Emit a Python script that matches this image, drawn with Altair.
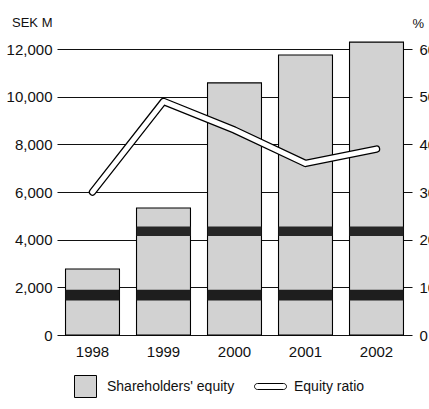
import altair as alt
import pandas as pd

# Shareholders' equity (SEK M) and equity ratio (%) by year
years = ["1998", "1999", "2000", "2001", "2002"]
equity = [2770, 5330, 10580, 11750, 12290]
equity_ratio = [30, 49, 43, 36, 39]

df = pd.DataFrame({
    "year": years,
    "equity": equity,
    "ratio": equity_ratio,
    "s_bar": "Shareholders' equity",
    "s_line": "Equity ratio",
})

FONT = "Liberation Sans"
INK = "#111111"

x_enc = alt.X(
    "year:O",
    sort=years,
    scale=alt.Scale(paddingInner=0.24, paddingOuter=0.12),
    axis=alt.Axis(title=None, labelAngle=0, domain=False, ticks=False,
                  labelPadding=9, labelFontSize=15, labelColor=INK),
)

eq_scale = alt.Scale(domain=[0, 12000], nice=False)
ratio_scale = alt.Scale(domain=[0, 60], nice=False)

left_axis = alt.Axis(
    values=list(range(0, 12001, 2000)),
    labelExpr="format(datum.value, ',.0f')",
    grid=True, gridColor=INK, gridWidth=1.1,
    domain=False, ticks=False, labelPadding=5,
    labelFontSize=15, labelColor=INK,
    title="SEK M", titleAngle=0, titleX=-5, titleY=-33,
    titleAlign="right", titleBaseline="top",
    titleFontSize=13, titleFontWeight="normal", titleColor=INK,
)
right_axis = alt.Axis(
    orient="right", values=list(range(0, 61, 10)), grid=False,
    domain=False, ticks=False, labelPadding=7,
    labelFontSize=15, labelColor=INK,
    title="%", titleAngle=0, titleX=0, titleY=-32,
    titleAlign="left", titleBaseline="top",
    titleFontSize=13, titleFontWeight="normal", titleColor=INK,
)

base = alt.Chart(df)

bars = base.mark_bar(stroke="black", strokeWidth=1.1).encode(
    x=x_enc,
    y=alt.Y("equity:Q", scale=eq_scale, axis=left_axis),
    fill=alt.Fill(
        "s_bar:N",
        scale=alt.Scale(range=["#d2d2d2"]),
        legend=alt.Legend(
            title=None, orient="none", legendX=17, legendY=326, padding=0,
            symbolType="square", symbolSize=484, symbolStrokeColor="black",
            symbolStrokeWidth=1, labelFontSize=14, labelColor=INK,
            labelOffset=10,
        ),
    ),
)

# darker print bands across the bars
band_low = base.transform_filter("datum.equity > 1450").transform_calculate(
    lo="1450", hi="min(datum.equity, 1900)"
).mark_bar(color="#1e1e1e").encode(
    x=alt.X("year:O", sort=years),
    y=alt.Y("lo:Q", scale=eq_scale, axis=left_axis),
    y2="hi:Q",
)
band_mid = base.transform_filter("datum.equity > 4150").transform_calculate(
    lo="4150", hi="min(datum.equity, 4550)"
).mark_bar(color="#262626").encode(
    x=alt.X("year:O", sort=years),
    y=alt.Y("lo:Q", scale=eq_scale, axis=left_axis),
    y2="hi:Q",
)

capsule = "M-1,-0.23 L1,-0.23 A0.23,0.23 0 0 1 1,0.23 L-1,0.23 A0.23,0.23 0 0 1 -1,-0.23 Z"

line_outer = base.mark_line(strokeWidth=7.5, strokeCap="round", strokeJoin="round").encode(
    x=alt.X("year:O", sort=years),
    y=alt.Y("ratio:Q", scale=ratio_scale, axis=right_axis),
    stroke=alt.Stroke(
        "s_line:N",
        scale=alt.Scale(range=["black"]),
        legend=alt.Legend(
            title=None, orient="none", legendX=200, legendY=324, padding=0,
            symbolType=capsule, symbolSize=676, symbolStrokeWidth=1,
            symbolFillColor="white", labelFontSize=14, labelColor=INK,
            labelOffset=10,
        ),
    ),
)
line_inner = base.mark_line(color="white", strokeWidth=5, strokeCap="round", strokeJoin="round").encode(
    x=alt.X("year:O", sort=years),
    y=alt.Y("ratio:Q", scale=ratio_scale, axis=right_axis),
)

chart = alt.layer(
    alt.layer(bars, band_low, band_mid),
    alt.layer(line_outer, line_inner),
).resolve_scale(
    y="independent", fill="independent", stroke="independent"
).resolve_legend(
    fill="independent", stroke="independent"
).properties(
    width=355, height=286,
    autosize="none",
    padding={"left": 57, "top": 49, "right": 17, "bottom": 74},
    background="white",
).configure(font=FONT).configure_view(stroke=None)

chart.save("out.html", embed_options={"renderer": "svg", "actions": False})
